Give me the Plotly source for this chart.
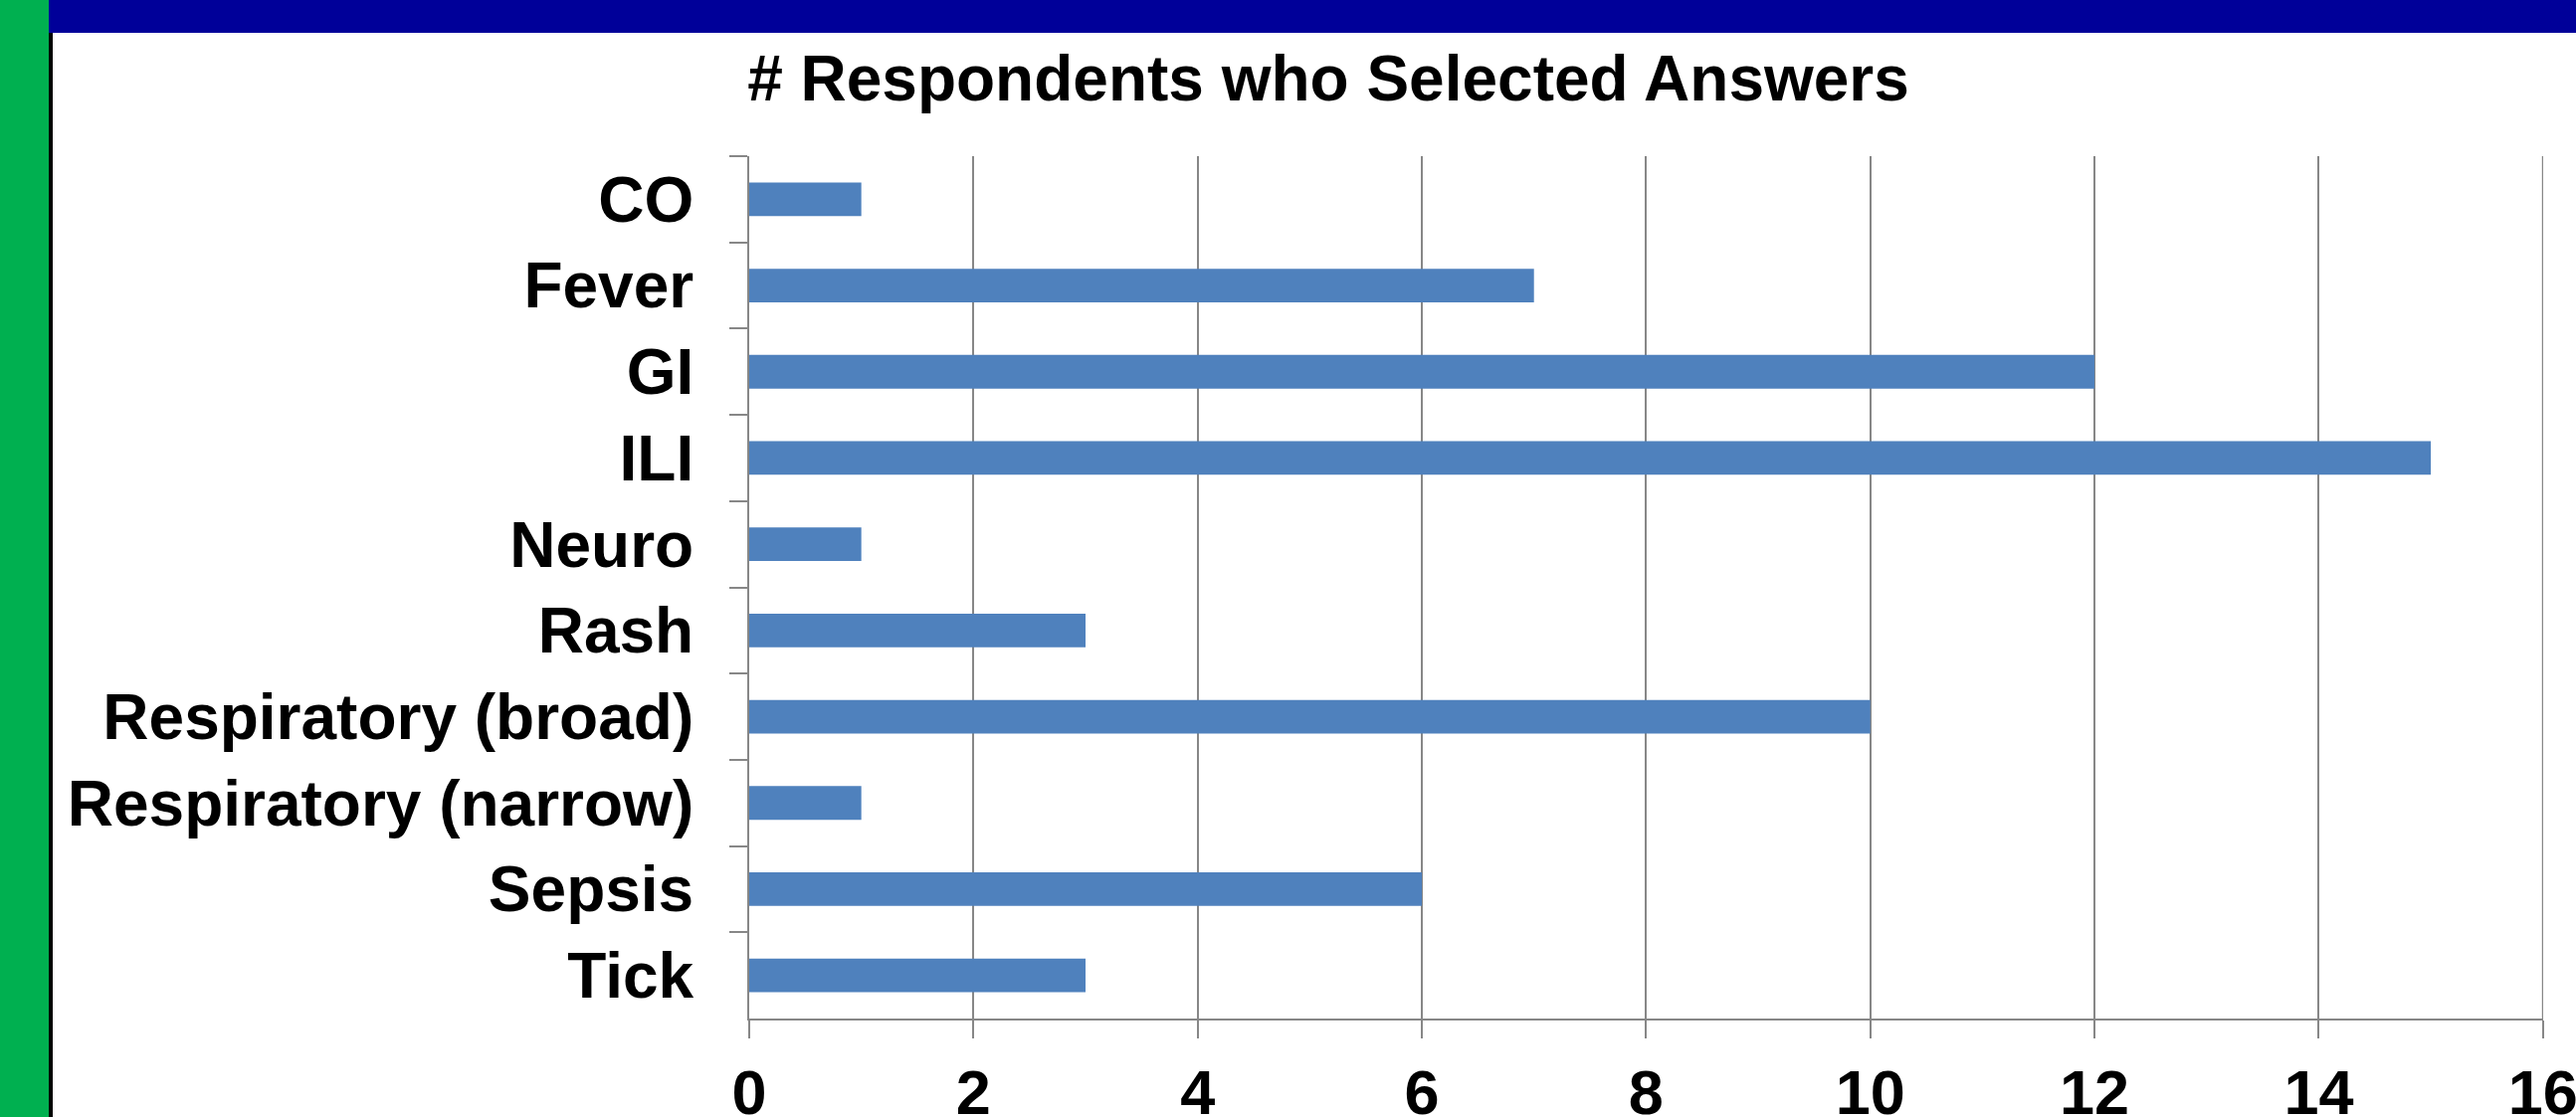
import plotly.graph_objects as go

categories = ["CO", "Fever", "GI", "ILI", "Neuro", "Rash", "Respiratory (broad)",
              "Respiratory (narrow)", "Sepsis", "Tick"]
counts = [1, 7, 12, 15, 1, 3, 10, 1, 6, 3]
x_ticks = [0, 2, 4, 6, 8, 10, 12, 14, 16]

W, H = 2589, 1123
L, R, T, B = 753, 2556, 157, 1024
pw, ph = R - L, B - T

def px(x):
    return (x - L) / pw

def py(y):
    return (B - y) / ph

FONT = "Liberation Sans, Arial, sans-serif"
GRID = "#878787"

fig = go.Figure(go.Bar(
    y=categories, x=counts, orientation="h",
    marker=dict(color="#4F81BD", line=dict(width=0)),
    showlegend=False,
))

fig.update_layout(
    width=W, height=H,
    margin=dict(l=L, r=W - R, t=T, b=H - B, autoexpand=False),
    paper_bgcolor="white", plot_bgcolor="white",
    bargap=0.61,
    title=dict(text="# Respondents who Selected Answers", x=1335 / W, xanchor="center",
               y=1 - 79 / H, yanchor="middle", yref="container",
               font=dict(family=FONT, size=64, color="black", weight="bold")),
    xaxis=dict(range=[0, 16.002], tickvals=x_ticks, ticktext=[str(v) for v in x_ticks],
               showgrid=True, gridcolor=GRID, gridwidth=2,
               showline=True, linecolor=GRID, linewidth=2,
               ticks="outside", ticklen=18, tickwidth=2, tickcolor=GRID,
               zeroline=False, ticklabeloverflow="allow",
               tickfont=dict(family=FONT, size=63, color="black", weight="bold")),
    yaxis=dict(autorange="reversed", showgrid=False,
               showline=True, linecolor=GRID, linewidth=2,
               ticks="outside", ticklen=18, tickwidth=2, tickcolor=GRID,
               tickson="boundaries", ticklabelstandoff=41,
               tickfont=dict(family=FONT, size=64, color="black", weight="bold")),
    shapes=[
        dict(type="line", xref="x", yref="paper", x0=x_ticks[-1], x1=x_ticks[-1],
             y0=0, y1=1, line=dict(color=GRID, width=2), layer="below"),
        dict(type="rect", xref="paper", yref="paper", x0=px(-10), x1=px(W + 10),
             y0=py(33), y1=py(-10), fillcolor="#000099", line=dict(width=0), layer="above"),
        dict(type="rect", xref="paper", yref="paper", x0=px(-10), x1=px(49),
             y0=py(H + 10), y1=py(-10), fillcolor="#00B050", line=dict(width=0), layer="above"),
        dict(type="rect", xref="paper", yref="paper", x0=px(49), x1=px(53),
             y0=py(H + 10), y1=py(33), fillcolor="black", line=dict(width=0), layer="above"),
    ],
)

fig.write_html("out.html")
